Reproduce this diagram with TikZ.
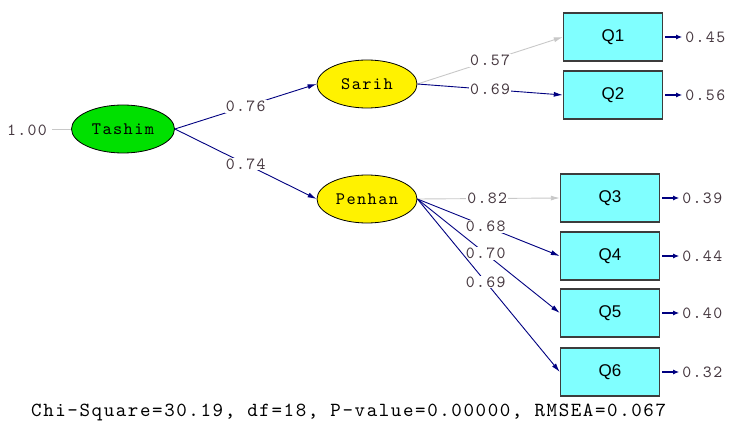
\documentclass[tikz,border=0pt]{standalone}
\usepackage{fontspec}
\setmainfont{Liberation Sans}
\newfontfamily\monof{lmmono10-regular.otf}[LetterSpace=8]
\usetikzlibrary{arrows.meta,shapes.geometric}
\definecolor{navy}{RGB}{0,0,128}
\definecolor{lgray}{RGB}{200,200,200}
\definecolor{cyanbox}{RGB}{128,255,255}
\definecolor{labc}{RGB}{70,56,64}
\definecolor{lvgreen}{RGB}{0,224,0}
\tikzset{
  latent/.style={ellipse,draw=black,line width=0.8pt,minimum width=100pt,minimum height=48pt,inner sep=0pt,font=\monof\fontsize{17.5}{17.5}\selectfont},
  obs/.style={rectangle,draw={rgb,255:red,60;green,60;blue,60},line width=1.4pt,fill=cyanbox,minimum width=99pt,minimum height=48pt,inner sep=0pt,font=\fontsize{17}{17}\selectfont},
  pathn/.style={draw=navy,line width=0.9pt,-{Latex[length=9pt,width=5pt]}},
  pathg/.style={draw=lgray,line width=0.9pt,-{Latex[length=9pt,width=5pt]}},
  lab/.style={fill=white,inner sep=1pt,text=labc,font=\monof\fontsize{17}{17}\selectfont},
  errarr/.style={draw=navy,line width=1.3pt,-{Latex[length=6pt,width=5pt]}},
  errlab/.style={anchor=west,inner sep=0pt,text=labc,font=\monof\fontsize{17}{17}\selectfont},
}
\begin{document}
\begin{tikzpicture}[x=1pt,y=-1pt]
\useasboundingbox (0,0) rectangle (730,422);
% latent variables
\node[latent,fill=lvgreen,minimum width=103pt] (T) at (123,129) {Tashim};
\node[latent,fill=yellow] (S) at (367,84) {Sarih};
\node[latent,fill=yellow] (P) at (367,199) {Penhan};
% observed
\node[obs] (Q1) at (613,37) {Q1};
\node[obs] (Q2) at (613,95) {Q2};
\node[obs] (Q3) at (610,198) {Q3};
\node[obs] (Q4) at (610,256) {Q4};
\node[obs] (Q5) at (610,313) {Q5};
\node[obs] (Q6) at (610,372) {Q6};
% variance of Tashim
\node[anchor=east,inner sep=0pt,text=labc,font=\monof\fontsize{17}{17}\selectfont] (v) at (47,130) {1.00};
\coordinate (vs) at (52,129);
\draw[lgray,line width=0.9pt] (vs) -- (T.west);
% structural paths
\draw[pathn] (T.east) -- node[lab,pos=0.5] {0.76} (S.west);
\draw[pathn] (T.east) -- node[lab,pos=0.5] {0.74} (P.west);
% measurement paths
\draw[pathg] (S.east) -- node[lab,pos=0.5] {0.57} (Q1.west);
\draw[pathn] (S.east) -- node[lab,pos=0.5] {0.69} (Q2.west);
\draw[pathg] (P.east) -- node[lab,pos=0.49] {0.82} (Q3.west);
\draw[pathn] (P.east) -- node[lab,pos=0.48] {0.68} (Q4.west);
\draw[pathn] (P.east) -- node[lab,pos=0.48] {0.70} (Q5.west);
\draw[pathn] (P.east) -- node[lab,pos=0.48] {0.69} (Q6.west);
% error variances
\foreach \q/\v in {Q1/0.45,Q2/0.56,Q3/0.39,Q4/0.44,Q5/0.40,Q6/0.32}{
  \coordinate (e\q) at ([xshift=19pt]\q.east);
  \draw[errarr] ([xshift=2pt]\q.east) -- (e\q);
  \node[errlab] (l\q) at ([xshift=3pt]e\q) {\v};
}
% fit statistics
\node[anchor=west,inner sep=0pt,font=\monof\fontsize{20}{20}\selectfont] (fit) at (31,412) {Chi-Square=30.19, df=18, P-value=0.00000, RMSEA=0.067};
\end{tikzpicture}
\end{document}
